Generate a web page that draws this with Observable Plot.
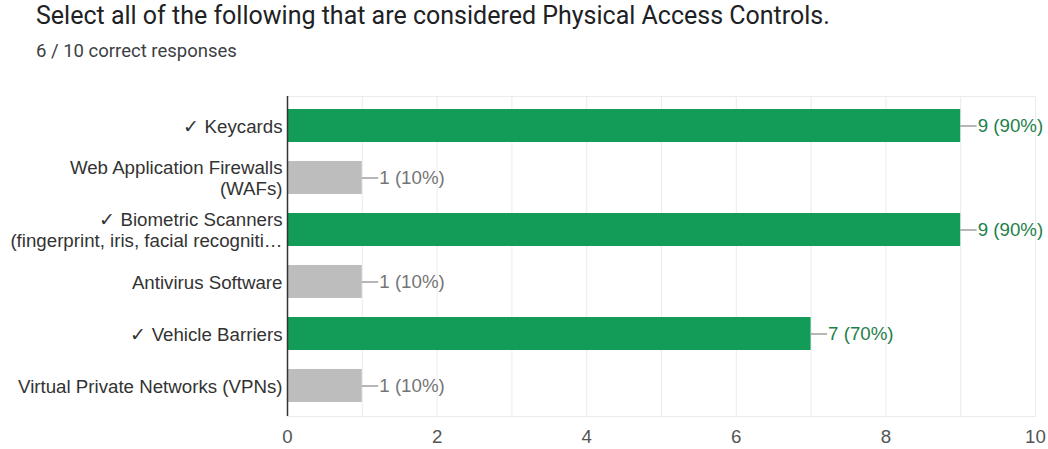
<!DOCTYPE html>
<html>
<head>
<meta charset="utf-8">
<script src="https://cdn.jsdelivr.net/npm/d3@7"></script>
<script src="https://cdn.jsdelivr.net/npm/@observablehq/plot@0.6"></script>
<style>
  body { margin: 0; background: #fff; font-family: Roboto, "Noto Sans", sans-serif; }
  #wrap { width: 1048px; height: 449px; position: relative; overflow: hidden; }
  #title { position: absolute; left: 36px; top: 1px; font-size: 25px; color: #202124; white-space: nowrap; }
  #subtitle { position: absolute; left: 36px; top: 40px; font-size: 18.5px; color: #3c4043; white-space: nowrap; }
  #chart { position: absolute; left: 0; top: 76px; }
</style>
</head>
<body>
<div id="wrap">
  <div id="title">Select all of the following that are considered Physical Access Controls.</div>
  <div id="subtitle">6 / 10 correct responses</div>
  <div id="chart"></div>
</div>
<script>
const categories = [
  "✓ Keycards",
  "Web Application Firewalls\n(WAFs)",
  "✓ Biometric Scanners\n(fingerprint, iris, facial recogniti…",
  "Antivirus Software",
  "✓ Vehicle Barriers",
  "Virtual Private Networks (VPNs)"
];
const counts = [9, 1, 9, 1, 7, 1];
const correct = [true, false, true, false, true, false];
const totalResponses = 10;
const xTicks = [0, 2, 4, 6, 8, 10];
const gridValues = [0, 1, 2, 3, 4, 5, 6, 7, 8, 9, 10];

const data = categories.map((c, i) => ({
  cat: c,
  count: counts[i],
  correct: correct[i],
  label: `${counts[i]} (${Math.round(counts[i] / totalResponses * 100)}%)`
}));

const chart = Plot.plot({
  width: 1048,
  height: 373,
  marginTop: 20,
  marginBottom: 33,
  marginLeft: 287,
  marginRight: 13,
  style: { fontFamily: "'Liberation Sans', Arial, sans-serif", background: "#fff" },
  x: { domain: [0, 10], ticks: xTicks, label: null },
  y: { domain: categories, paddingInner: 0.36, paddingOuter: 0.2, label: null },
  marks: [
    Plot.gridX(gridValues, { stroke: "#ebebeb", strokeOpacity: 1 }),
    Plot.frame({ stroke: "#ebebeb" }),
    Plot.barX(data, {
      y: "cat", x: "count",
      fill: d => d.correct ? "#129c58" : "#bdbdbd"
    }),
    Plot.ruleY(data, {
      y: "cat", x1: "count", x2: d => d.count + 0.22,
      stroke: "#9e9e9e", strokeWidth: 1.5
    }),
    Plot.text(data, {
      y: "cat", x: "count", text: "label", dx: 17,
      textAnchor: "start", fontSize: 18.7,
      fill: d => d.correct ? "#1e8049" : "#757575"
    }),
    Plot.ruleX([0], { stroke: "#333", strokeWidth: 1.5 }),
    Plot.axisY({
      tickSize: 0, tickPadding: 5, fontSize: 18.7, lineHeight: 1.13,
      fill: "#333", label: null
    }),
    Plot.axisX({
      ticks: xTicks, tickSize: 0, tickPadding: 13, fontSize: 18.7,
      fill: "#555", label: null
    })
  ]
});
document.getElementById("chart").appendChild(chart);
</script>
</body>
</html>
